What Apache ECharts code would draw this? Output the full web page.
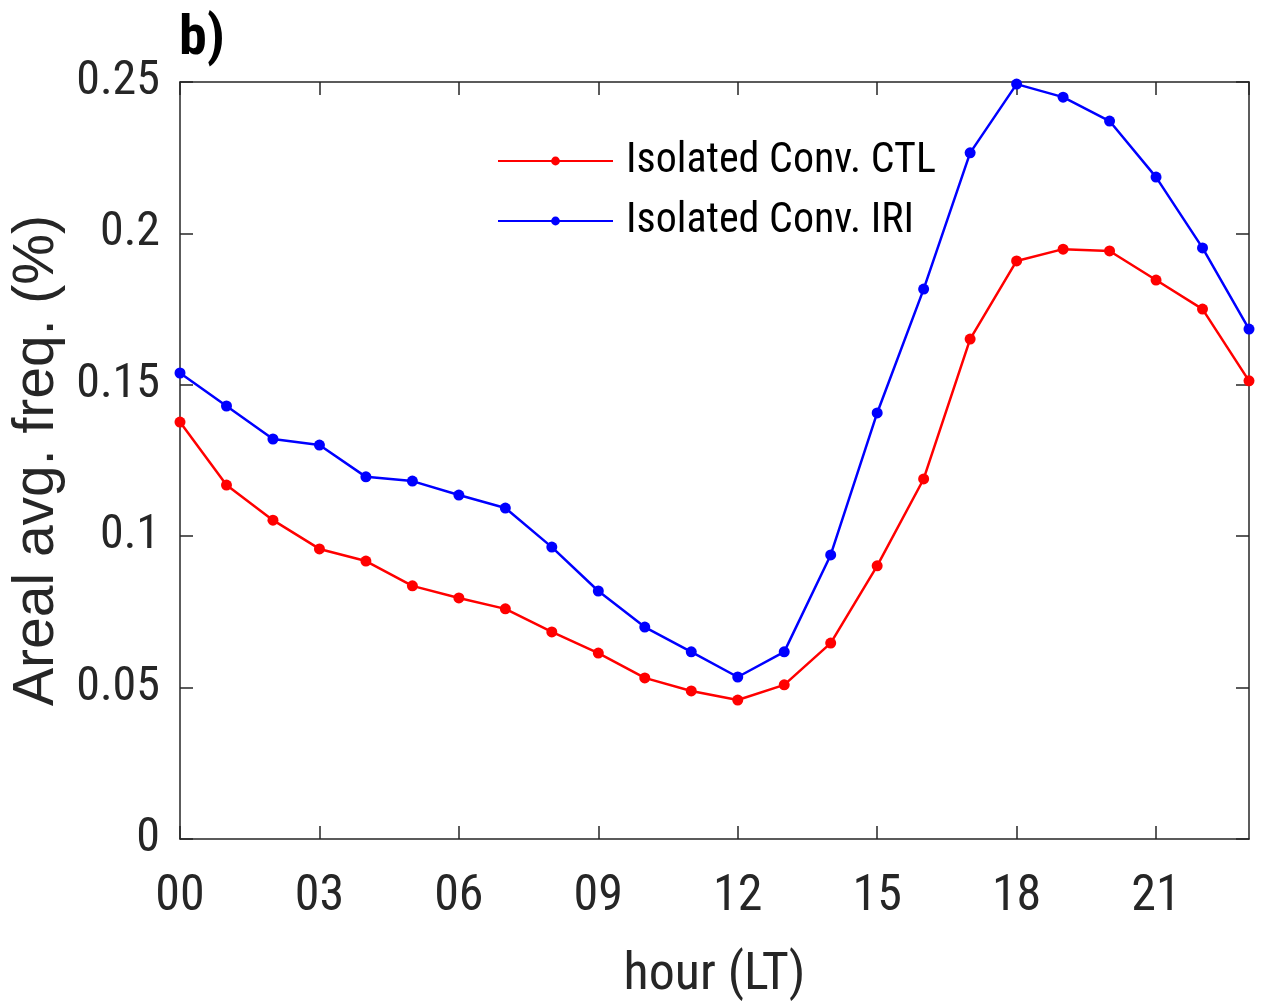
<!DOCTYPE html>
<html>
<head>
<meta charset="utf-8">
<script src="https://cdn.jsdelivr.net/npm/echarts@6/dist/echarts.min.js"></script>
<style>html,body{margin:0;padding:0;background:#fff}#c{width:1267px;height:1008px}</style>
</head>
<body>
<div id="c"></div>
<script>
var hours = [0,1,2,3,4,5,6,7,8,9,10,11,12,13,14,15,16,17,18,19,20,21,22,23];
var ctl = [0.1377,0.1169,0.1053,0.0958,0.0918,0.0836,0.0796,0.0760,0.0684,0.0614,0.0532,0.0489,0.0459,0.0509,0.0647,0.0902,0.1189,0.1651,0.1909,0.1948,0.1942,0.1846,0.1750,0.1513];
var iri = [0.1539,0.1430,0.1321,0.1301,0.1196,0.1182,0.1136,0.1093,0.0964,0.0819,0.0700,0.0618,0.0535,0.0618,0.0938,0.1407,0.1816,0.2266,0.2493,0.2450,0.2371,0.2186,0.1952,0.1684];
var seriesNames = ['Isolated Conv. CTL','Isolated Conv. IRI'];
var panelLabel = 'b)';
var xTitle = 'hour (LT)';
var yTitle = 'Areal avg. freq. (%)';

function pairs(v){ return hours.map(function(h,i){ return [h, v[i]]; }); }

var axisCol = '#262626';
var narrow = '"Roboto Condensed", "Liberation Sans", sans-serif';
var baseAxis = {
  axisLine: {show: true, onZero: false, lineStyle: {color: axisCol, width: 1.5}},
  axisTick: {show: true, inside: true, length: 13, lineStyle: {color: axisCol, width: 1.5}},
  splitLine: {show: false}
};
function mk(extra){ return Object.assign({}, JSON.parse(JSON.stringify(baseAxis)), extra); }

var chart = echarts.init(document.getElementById('c'));
chart.setOption({
  animation: false,
  backgroundColor: '#fff',
  title: {text: panelLabel, left: 179, top: 12, padding: 0, textStyle: {fontFamily: narrow, fontWeight: 'bold', fontSize: 56, color: '#000'}},
  legend: {
    top: 140, left: 497, orient: 'vertical', padding: 0, itemGap: 18, itemWidth: 115, itemHeight: 11,
    textStyle: {fontFamily: narrow, fontSize: 42, color: '#000', padding: [0,0,0,8]},
    data: seriesNames
  },
  grid: {left: 180, right: 18, top: 82, bottom: 169, containLabel: false},
  xAxis: [
    mk({type: 'value', min: 0, max: 23, interval: 3, position: 'bottom',
      name: xTitle, nameLocation: 'middle', nameGap: 111,
      nameTextStyle: {fontFamily: narrow, fontSize: 52, color: '#262626'},
      axisLabel: {fontFamily: narrow, fontSize: 50, color: '#262626', margin: 33, showMaxLabel: false,
        formatter: function(v){ return (v < 10 ? '0' : '') + v; }}}),
    mk({type: 'value', min: 0, max: 23, interval: 3, position: 'top', axisLabel: {show: false}})
  ],
  yAxis: [
    mk({type: 'value', min: 0, max: 0.25, interval: 0.05, position: 'left',
      name: yTitle, nameLocation: 'middle', nameGap: 110, nameRotate: 90,
      nameTextStyle: {fontFamily: '"Liberation Sans", sans-serif', fontSize: 57, color: '#262626'},
      axisLabel: {fontFamily: narrow, fontSize: 48, color: '#262626', margin: 20}}),
    mk({type: 'value', min: 0, max: 0.25, interval: 0.05, position: 'right', axisLabel: {show: false}})
  ],
  series: [
    {name: seriesNames[0], type: 'line', data: pairs(ctl), color: '#ff0000',
      symbol: 'circle', symbolSize: 11, lineStyle: {width: 2.5, color: '#ff0000'},
      itemStyle: {color: '#ff0000'}},
    {name: seriesNames[1], type: 'line', data: pairs(iri), color: '#0000ff',
      symbol: 'circle', symbolSize: 11, lineStyle: {width: 2.5, color: '#0000ff'},
      itemStyle: {color: '#0000ff'}}
  ]
});
</script>
</body>
</html>
